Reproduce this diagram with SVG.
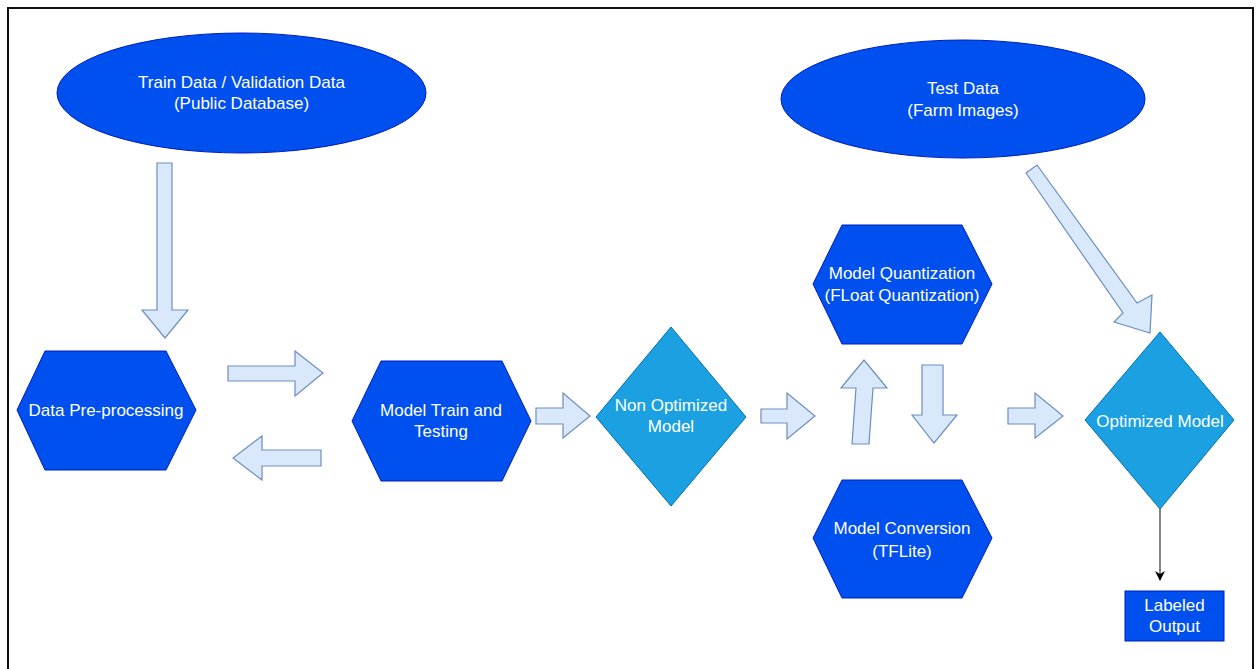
<svg xmlns="http://www.w3.org/2000/svg" width="1257" height="669" viewBox="0 0 1257 669">
<defs>
<style>
.hex{fill:#0050ef;stroke:#001dbc;stroke-width:1}
.ell{fill:#0050ef;stroke:#001dbc;stroke-width:1}
.dia{fill:#1ba1e2;stroke:#006eaf;stroke-width:1}
.arr{fill:#dae8fc;stroke:#6c8ebf;stroke-width:1.2;stroke-linejoin:miter}
.t{font-family:"Liberation Sans",Arial,sans-serif;font-size:17px;fill:#ffffff;text-anchor:middle}
</style>
<marker id="ah" markerWidth="10" markerHeight="10" refX="9" refY="5" orient="auto" markerUnits="userSpaceOnUse">
<path d="M0,0 L10,5 L0,10 L3,5 Z" fill="#000"/>
</marker>
</defs>
<rect x="0" y="0" width="1257" height="669" fill="#ffffff"/>
<rect x="8" y="8" width="1245" height="700" fill="none" stroke="#111" stroke-width="2"/>

<g id="train-data">
<ellipse class="ell" cx="241.5" cy="93" rx="184.5" ry="60"/>
<text class="t" x="241.5" y="88">Train Data / Validation Data</text>
<text class="t" x="241.5" y="109">(Public Database)</text>
</g>

<g id="test-data">
<ellipse class="ell" cx="963" cy="99" rx="182" ry="59"/>
<text class="t" x="963" y="94">Test Data</text>
<text class="t" x="963" y="116">(Farm Images)</text>
</g>

<g id="data-preprocessing">
<polygon class="hex" points="17,410 45,351 166,351 196,410 166,470 45,470"/>
<text class="t" x="106" y="416">Data Pre-processing</text>
</g>

<g id="model-train">
<polygon class="hex" points="352,421 381,361 502,361 531,421 502,481 381,481"/>
<text class="t" x="441" y="416">Model Train and</text>
<text class="t" x="441" y="437">Testing</text>
</g>

<g id="non-optimized">
<polygon class="dia" points="671,327 746,417 671,506 596,417"/>
<text class="t" x="671" y="411">Non Optimized</text>
<text class="t" x="671" y="432">Model</text>
</g>

<g id="model-quantization">
<polygon class="hex" points="813,284 842,225 962,225 992,284 962,344 842,344"/>
<text class="t" x="902" y="279">Model Quantization</text>
<text class="t" x="902" y="301">(FLoat Quantization)</text>
</g>

<g id="model-conversion">
<polygon class="hex" points="813,538 842,480 962,480 992,538 962,598 842,598"/>
<text class="t" x="902" y="534">Model Conversion</text>
<text class="t" x="902" y="557">(TFLite)</text>
</g>

<g id="optimized-model">
<polygon class="dia" points="1160,332 1234,420 1160,509 1085,420"/>
<text class="t" x="1160" y="427">Optimized Model</text>
</g>

<g id="labeled-output">
<rect x="1125" y="591" width="99" height="50" fill="#0050ef" stroke="#001dbc" stroke-width="1"/>
<text class="t" x="1174.5" y="611">Labeled</text>
<text class="t" x="1174.5" y="632">Output</text>
</g>

<g id="connectors">
<polygon class="arr" points="157,163 172,163 172,310 188,310 165,338 142,310 157,310"/>
<polygon class="arr" points="228,366 295,366 295,351 323,373 295,396 295,381 228,381"/>
<polygon class="arr" points="321,450 262,450 262,436 233,458 262,480 262,466 321,466"/>
<polygon class="arr" points="536,408 563,408 563,393 590,416 563,438 563,424 536,424"/>
<polygon class="arr" points="761,409 787,409 787,393 815,416 787,439 787,423 761,423"/>
<polygon class="arr" points="852,444 869,444 873,388 887,388 864,360 841,388 856,388"/>
<polygon class="arr" points="922,365 943,365 943,415 957,415 934,443 912,415 922,415"/>
<polygon class="arr" points="1008,408 1035,408 1035,393 1063,416 1035,438 1035,424 1008,424"/>
<polygon class="arr" points="1026,173 1037,165 1137,303 1152,295 1150,333 1114,322 1123,313"/>
<line x1="1160" y1="509" x2="1160" y2="580" stroke="#333" stroke-width="1.2" marker-end="url(#ah)"/>
</g>
</svg>
